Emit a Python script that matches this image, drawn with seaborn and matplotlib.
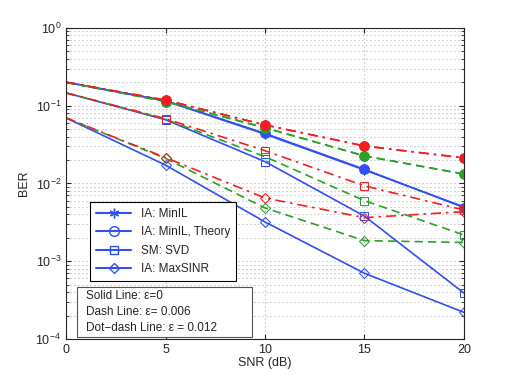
import numpy as np
import matplotlib
matplotlib.use('Agg')
import matplotlib.pyplot as plt
import seaborn as sns
from matplotlib.lines import Line2D
from matplotlib.patches import Rectangle
from matplotlib.ticker import LogLocator, NullFormatter

snr = [0, 5, 10, 15, 20]

# BER per scheme, one list per epsilon (0, 0.006, 0.012)
minil_sim = [
    [0.200, 0.115, 0.043, 0.0149, 0.0050],
    [0.200, 0.113, 0.052, 0.0226, 0.0132],
    [0.200, 0.118, 0.0565, 0.0303, 0.0213],
]
minil_theory = [
    [0.200, 0.116, 0.044, 0.0152, 0.0049],
    [0.200, 0.113, 0.052, 0.0226, 0.0132],
    [0.200, 0.118, 0.0565, 0.0303, 0.0213],
]
svd = [
    [0.146, 0.066, 0.0191, 0.0038, 0.00039],
    [0.146, 0.067, 0.0221, 0.0060, 0.00218],
    [0.146, 0.068, 0.0264, 0.0093, 0.00456],
]
maxsinr = [
    [0.0696, 0.0172, 0.0032, 0.00070, 0.00022],
    [0.0696, 0.0210, 0.00484, 0.00184, 0.00174],
    [0.0696, 0.0215, 0.0065, 0.00363, 0.00434],
]

colors = ['#3050f0', '#2ca02c', '#f02020']
dash_styles = [(None, None), (5, 3), (6, 3, 1.5, 3)]
asterisk = (6, 2, 0)

sns.set_style('ticks')
plt.rcParams['font.family'] = ['Liberation Sans', 'DejaVu Sans']
plt.rcParams['mathtext.default'] = 'regular'

fig = plt.figure(figsize=(5.12, 3.82), dpi=100)
ax = fig.add_axes([0.129, 0.1126, 0.777, 0.8144])

mev = [1, 2, 3, 4]
for i in range(3):
    c = colors[i]
    kw = dict(color=c, linewidth=1.2, ax=ax, legend=False, markevery=mev)
    lines = []
    lines += [sns.lineplot(x=snr, y=minil_theory[i], marker='o', markersize=7,
                           markerfacecolor=c, markeredgecolor=c, **kw).lines[-1]]
    lines += [sns.lineplot(x=snr, y=minil_sim[i], marker=asterisk, markersize=7,
                           markeredgecolor=c, **kw).lines[-1]]
    lines += [sns.lineplot(x=snr, y=svd[i], marker='s', markersize=6,
                           markerfacecolor='none', markeredgecolor=c, **kw).lines[-1]]
    lines += [sns.lineplot(x=snr, y=maxsinr[i], marker='D', markersize=5.5,
                           markerfacecolor='none', markeredgecolor=c, **kw).lines[-1]]
    if i > 0:
        for ln in lines:
            ln.set_dashes(dash_styles[i])

ax.set_yscale('log')
ax.set_xlim(0, 20)
ax.set_ylim(1e-4, 1)
ax.set_xticks([0, 5, 10, 15, 20])
ax.yaxis.set_major_locator(LogLocator(base=10, numticks=10))
ax.yaxis.set_minor_locator(LogLocator(base=10, subs=np.arange(2, 10), numticks=20))
ax.yaxis.set_minor_formatter(NullFormatter())
ax.tick_params(which='both', direction='in', top=True, right=True, labelsize=9)
ax.tick_params(which='minor', length=2)
grid_ls = (0, (0.8, 2.8))
ax.grid(True, which='major', linestyle=grid_ls, color='#a0a0a0', linewidth=0.8)
ax.grid(True, which='minor', axis='y', linestyle=grid_ls, color='#a0a0a0', linewidth=0.8)
for s in ax.spines.values():
    s.set_linewidth(0.8)
ax.set_xlabel('SNR (dB)', fontsize=9, labelpad=1)
ax.set_ylabel('BER', fontsize=9)

handles = [
    Line2D([], [], color=colors[0], marker=asterisk, markersize=7, label='IA: MinIL'),
    Line2D([], [], color=colors[0], marker='o', markerfacecolor='none', markersize=7,
           label='IA: MinIL, Theory'),
    Line2D([], [], color=colors[0], marker='s', markerfacecolor='none', markersize=6,
           label='SM: SVD'),
    Line2D([], [], color=colors[0], marker='D', markerfacecolor='none', markersize=5.5,
           label='IA: MaxSINR'),
]
leg = ax.legend(handles=handles, loc='upper left', bbox_to_anchor=(0.06, 0.4405),
                borderaxespad=0, fontsize=8.5, fancybox=False, framealpha=1,
                edgecolor='black', handlelength=3.0, borderpad=0.5, labelspacing=0.55)
leg.get_frame().set_linewidth(0.8)

ax.add_patch(Rectangle((0.0276, 0.006), 0.4397, 0.1608, transform=ax.transAxes,
                       facecolor='white', edgecolor='#555555', linewidth=0.8, zorder=4))
txt = ('Solid Line: ε=0\n'
       'Dash Line: ε= 0.006\n'
       'Dot\u2212dash Line: ε = 0.012')
ax.text(0.05, 0.088, txt, transform=ax.transAxes, fontsize=8.5, va='center', ha='left',
        linespacing=1.45, zorder=5)

fig.savefig('out.png', dpi=100)
